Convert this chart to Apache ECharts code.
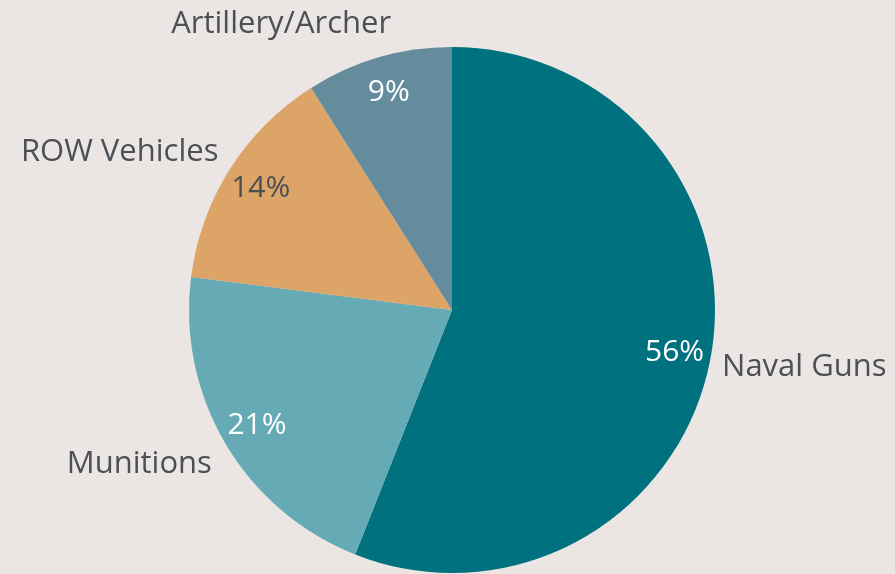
<!DOCTYPE html>
<html>
<head>
<meta charset="utf-8">
<script src="https://cdn.jsdelivr.net/npm/echarts@6/dist/echarts.min.js"></script>
<style>
  html, body { margin: 0; padding: 0; background: #ebe6e3; }
  #chart { width: 895px; height: 574px; }
</style>
</head>
<body>
<div id="chart"></div>
<script>
// data
const categories = ['Naval Guns', 'Munitions', 'ROW Vehicles', 'Artillery/Archer'];
const shares = [56, 21, 14, 9];

const sliceColors = ['#00717f', '#66aab6', '#dda468', '#658c9d'];
const innerLabelColors = ['#ffffff', '#ffffff', '#4a4f55', '#ffffff'];
// small nudges so the names sit where the original layout put them
const nameNudges = [[-9, 5], [5, 12], [7, -8], [22, -18]];

const font = '"Open Sans", Lato, sans-serif';
const R = 263;
const center = [452, 310];

const container = document.getElementById('chart');
const myChart = echarts.init(container, null, { renderer: 'canvas', width: 895, height: 574 });

const outerData = categories.map((name, i) => ({
  name: name,
  value: shares[i],
  itemStyle: { color: sliceColors[i] },
  label: { offset: nameNudges[i] }
}));

const innerData = categories.map((name, i) => ({
  name: name,
  value: shares[i],
  label: { color: innerLabelColors[i] }
}));

const option = {
  backgroundColor: '#ebe6e3',
  animation: false,
  series: [
    {
      type: 'pie',
      center: center,
      radius: R,
      startAngle: 90,
      clockwise: true,
      silent: true,
      data: outerData,
      label: {
        show: true,
        position: 'outside',
        formatter: '{b}',
        fontFamily: font,
        fontSize: 31,
        color: '#4b5056',
        overflow: 'none'
      },
      labelLine: { show: false, length: 16, length2: 0 }
    },
    {
      // transparent ring used only to place the percentage labels
      type: 'pie',
      center: center,
      radius: [R * 0.7, R],
      startAngle: 90,
      clockwise: true,
      silent: true,
      data: innerData,
      itemStyle: { color: 'rgba(0,0,0,0)' },
      label: {
        show: true,
        position: 'inside',
        formatter: p => p.value + '%',
        fontFamily: font,
        fontSize: 30
      },
      labelLine: { show: false }
    }
  ]
};

myChart.setOption(option);
</script>
</body>
</html>
